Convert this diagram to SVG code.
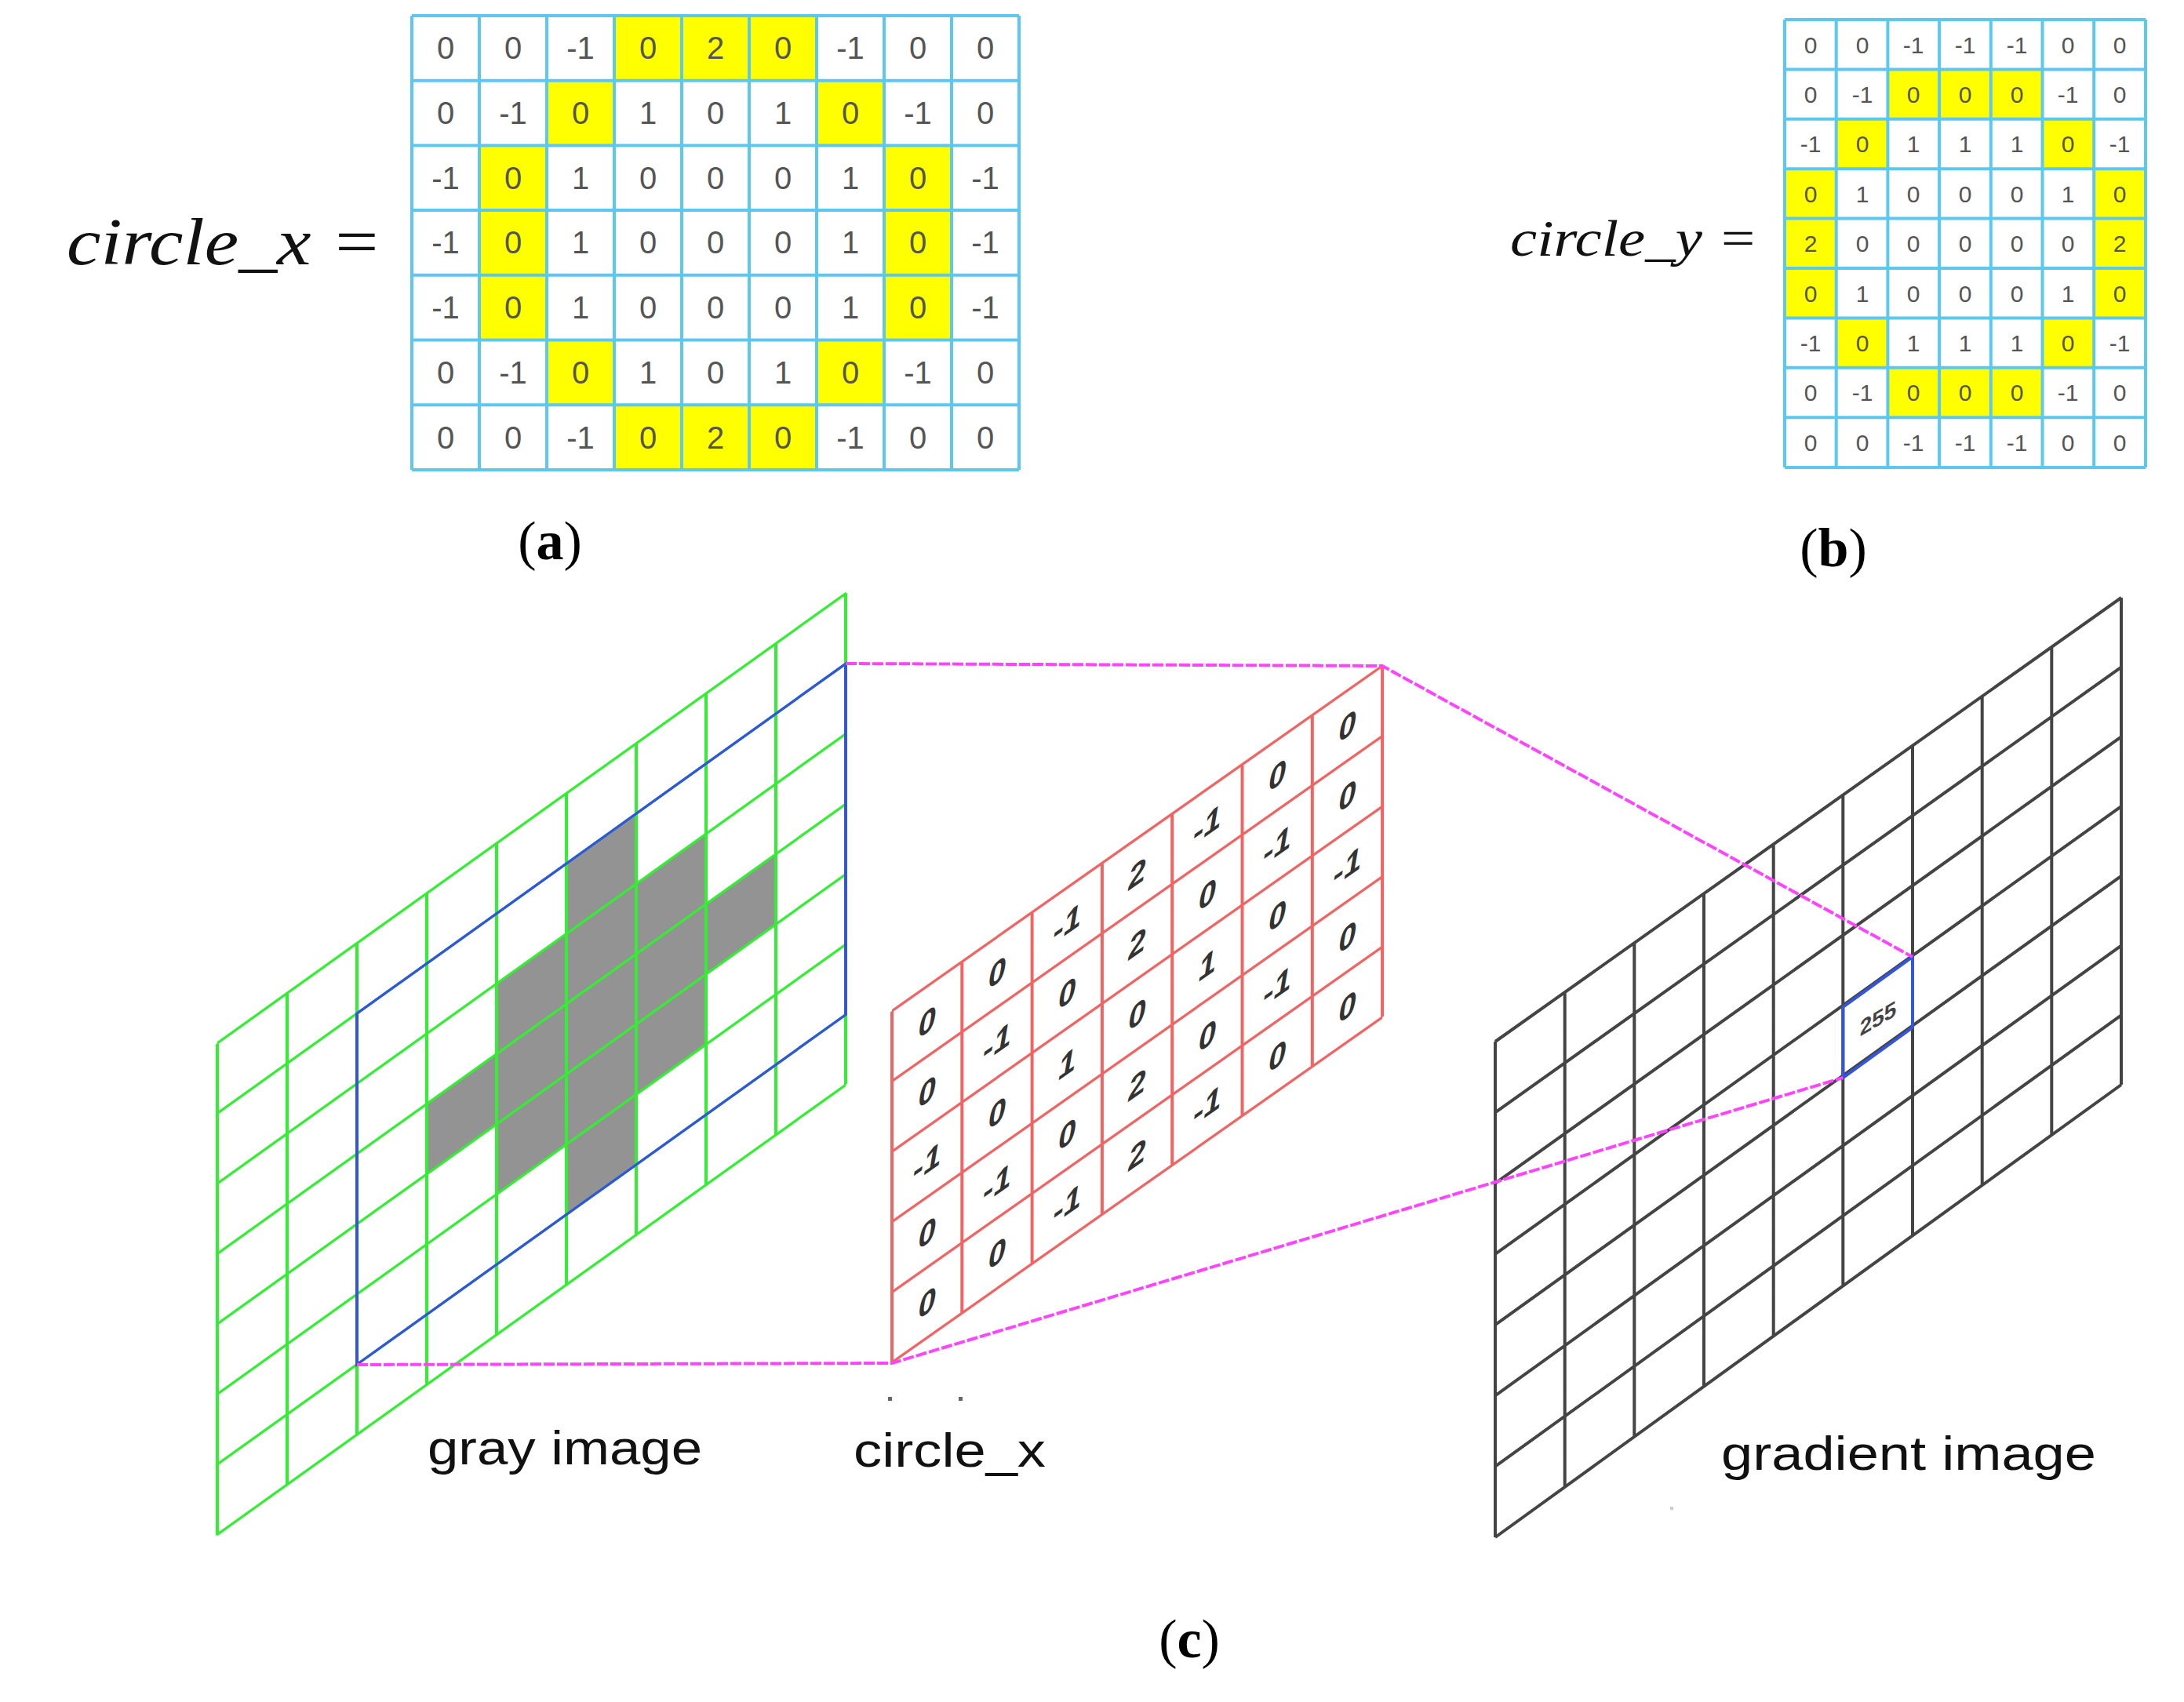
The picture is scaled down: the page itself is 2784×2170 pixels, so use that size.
<svg xmlns="http://www.w3.org/2000/svg" width="2784" height="2170" viewBox="0 0 2784 2170">
<style>
.ta{font-family:"Liberation Sans",sans-serif;font-size:40px;fill:#555;text-anchor:middle}
.tb{font-family:"Liberation Sans",sans-serif;font-size:30px;fill:#555;text-anchor:middle}
.eq{font-family:"Liberation Serif",serif;font-style:italic;fill:#111}
.cap{font-family:"Liberation Serif",serif;font-size:70px;fill:#000;text-anchor:middle}
.lbl{font-family:"Liberation Sans",sans-serif;font-size:62px;fill:#111}
.rt{font-family:"Liberation Sans",sans-serif;font-size:40px;font-style:italic;font-weight:bold;fill:#333;text-anchor:middle}
.tbl{fill:none;stroke:#5cc8f0;stroke-width:4}
.g{stroke:#33ee33;stroke-width:4;fill:none}
.r{stroke:#f06464;stroke-width:4;fill:none}
.k{stroke:#444;stroke-width:4;fill:none}
.bl{stroke:#3355dd;stroke-width:4;fill:none}
.mg{stroke:#ff44ff;stroke-width:4;fill:none;stroke-dasharray:14 3}
.y{fill:#ffff00}
.gc{fill:#939393}
</style>

<g id="panel-a">
<text class="eq" x="85" y="337" font-size="84" textLength="402" lengthAdjust="spacingAndGlyphs">circle_x =</text>
<rect x="525" y="20" width="774" height="579" fill="#fff"/>
<g class="y">
<rect x="783" y="20" width="258" height="82.7"/>
<rect x="697" y="102.7" width="86" height="82.7"/><rect x="1041" y="102.7" width="86" height="82.7"/>
<rect x="611" y="185.4" width="86" height="248.1"/><rect x="1127" y="185.4" width="86" height="248.1"/>
<rect x="697" y="433.5" width="86" height="82.7"/><rect x="1041" y="433.5" width="86" height="82.7"/>
<rect x="783" y="516.2" width="258" height="82.8"/>
</g>
<path class="tbl" d="M525 20H1299M525 102.7H1299M525 185.4H1299M525 268.1H1299M525 350.8H1299M525 433.5H1299M525 516.2H1299M525 599H1299M525 20V599M611 20V599M697 20V599M783 20V599M869 20V599M955 20V599M1041 20V599M1127 20V599M1213 20V599M1299 20V599"/>
<g class="ta">
<text x="568" y="75">0</text><text x="654" y="75">0</text><text x="740" y="75">-1</text><text x="826" y="75">0</text><text x="912" y="75">2</text><text x="998" y="75">0</text><text x="1084" y="75">-1</text><text x="1170" y="75">0</text><text x="1256" y="75">0</text>
<text x="568" y="158">0</text><text x="654" y="158">-1</text><text x="740" y="158">0</text><text x="826" y="158">1</text><text x="912" y="158">0</text><text x="998" y="158">1</text><text x="1084" y="158">0</text><text x="1170" y="158">-1</text><text x="1256" y="158">0</text>
<text x="568" y="241">-1</text><text x="654" y="241">0</text><text x="740" y="241">1</text><text x="826" y="241">0</text><text x="912" y="241">0</text><text x="998" y="241">0</text><text x="1084" y="241">1</text><text x="1170" y="241">0</text><text x="1256" y="241">-1</text>
<text x="568" y="323">-1</text><text x="654" y="323">0</text><text x="740" y="323">1</text><text x="826" y="323">0</text><text x="912" y="323">0</text><text x="998" y="323">0</text><text x="1084" y="323">1</text><text x="1170" y="323">0</text><text x="1256" y="323">-1</text>
<text x="568" y="406">-1</text><text x="654" y="406">0</text><text x="740" y="406">1</text><text x="826" y="406">0</text><text x="912" y="406">0</text><text x="998" y="406">0</text><text x="1084" y="406">1</text><text x="1170" y="406">0</text><text x="1256" y="406">-1</text>
<text x="568" y="489">0</text><text x="654" y="489">-1</text><text x="740" y="489">0</text><text x="826" y="489">1</text><text x="912" y="489">0</text><text x="998" y="489">1</text><text x="1084" y="489">0</text><text x="1170" y="489">-1</text><text x="1256" y="489">0</text>
<text x="568" y="572">0</text><text x="654" y="572">0</text><text x="740" y="572">-1</text><text x="826" y="572">0</text><text x="912" y="572">2</text><text x="998" y="572">0</text><text x="1084" y="572">-1</text><text x="1170" y="572">0</text><text x="1256" y="572">0</text>
</g>
<text class="cap" x="701" y="713">(<tspan font-weight="bold">a</tspan>)</text>
</g>

<g id="panel-b">
<text class="eq" x="1925" y="326" font-size="66" textLength="316" lengthAdjust="spacingAndGlyphs">circle_y =</text>
<rect x="2275" y="25" width="460" height="571" fill="#fff"/>
<g class="y">
<rect x="2406.4" y="88.4" width="197.1" height="63.4"/>
<rect x="2340.7" y="151.8" width="65.7" height="63.4"/><rect x="2603.5" y="151.8" width="65.7" height="63.4"/>
<rect x="2275" y="215.2" width="65.7" height="190.2"/><rect x="2669.2" y="215.2" width="65.8" height="190.2"/>
<rect x="2340.7" y="405.4" width="65.7" height="63.4"/><rect x="2603.5" y="405.4" width="65.7" height="63.4"/>
<rect x="2406.4" y="468.8" width="197.1" height="63.4"/>
</g>
<path class="tbl" d="M2275 25H2735M2275 88.4H2735M2275 151.8H2735M2275 215.2H2735M2275 278.6H2735M2275 342H2735M2275 405.4H2735M2275 468.8H2735M2275 532.2H2735M2275 596H2735M2275 25V596M2340.7 25V596M2406.4 25V596M2472.1 25V596M2537.8 25V596M2603.5 25V596M2669.2 25V596M2735 25V596"/>
<g class="tb">
<text x="2308" y="68">0</text><text x="2374" y="68">0</text><text x="2439" y="68">-1</text><text x="2505" y="68">-1</text><text x="2571" y="68">-1</text><text x="2636" y="68">0</text><text x="2702" y="68">0</text>
<text x="2308" y="131">0</text><text x="2374" y="131">-1</text><text x="2439" y="131">0</text><text x="2505" y="131">0</text><text x="2571" y="131">0</text><text x="2636" y="131">-1</text><text x="2702" y="131">0</text>
<text x="2308" y="194">-1</text><text x="2374" y="194">0</text><text x="2439" y="194">1</text><text x="2505" y="194">1</text><text x="2571" y="194">1</text><text x="2636" y="194">0</text><text x="2702" y="194">-1</text>
<text x="2308" y="258">0</text><text x="2374" y="258">1</text><text x="2439" y="258">0</text><text x="2505" y="258">0</text><text x="2571" y="258">0</text><text x="2636" y="258">1</text><text x="2702" y="258">0</text>
<text x="2308" y="321">2</text><text x="2374" y="321">0</text><text x="2439" y="321">0</text><text x="2505" y="321">0</text><text x="2571" y="321">0</text><text x="2636" y="321">0</text><text x="2702" y="321">2</text>
<text x="2308" y="385">0</text><text x="2374" y="385">1</text><text x="2439" y="385">0</text><text x="2505" y="385">0</text><text x="2571" y="385">0</text><text x="2636" y="385">1</text><text x="2702" y="385">0</text>
<text x="2308" y="448">-1</text><text x="2374" y="448">0</text><text x="2439" y="448">1</text><text x="2505" y="448">1</text><text x="2571" y="448">1</text><text x="2636" y="448">0</text><text x="2702" y="448">-1</text>
<text x="2308" y="511">0</text><text x="2374" y="511">-1</text><text x="2439" y="511">0</text><text x="2505" y="511">0</text><text x="2571" y="511">0</text><text x="2636" y="511">-1</text><text x="2702" y="511">0</text>
<text x="2308" y="575">0</text><text x="2374" y="575">0</text><text x="2439" y="575">-1</text><text x="2505" y="575">-1</text><text x="2571" y="575">-1</text><text x="2636" y="575">0</text><text x="2702" y="575">0</text>
</g>
<text class="cap" x="2337" y="722">(<tspan font-weight="bold">b</tspan>)</text>
</g>

<g id="gray-image" transform="matrix(1,-0.7157,0,1,277,1330)">
<g class="gc">
<rect x="267" y="268.5" width="89" height="89.5"/>
<rect x="356" y="179" width="89" height="268.5"/>
<rect x="445" y="89.5" width="89" height="447.5"/>
<rect x="534" y="179" width="89" height="268.5"/>
<rect x="623" y="268.5" width="89" height="89.5"/>
</g>
<path class="g" d="M0 0V626.5M89 0V626.5M178 0V626.5M267 0V626.5M356 0V626.5M445 0V626.5M534 0V626.5M623 0V626.5M712 0V626.5M801 0V626.5M0 0H801M0 89.5H801M0 179H801M0 268.5H801M0 358H801M0 447.5H801M0 537H801M0 626.5H801"/>
<rect class="bl" x="178" y="89.5" width="623" height="447.5"/>
</g>
<text id="gray-label" class="lbl" x="545" y="1867" textLength="350" lengthAdjust="spacingAndGlyphs">gray image</text>

<g id="circle-x-kernel" transform="matrix(1,-0.704,0,1,1137,1289)">
<path class="r" d="M0 0V448M89.3 0V448M178.6 0V448M267.9 0V448M357.2 0V448M446.5 0V448M535.8 0V448M625.1 0V448M0 0H625.1M0 89.6H625.1M0 179.2H625.1M0 268.8H625.1M0 358.4H625.1M0 448H625.1"/>
<g class="rt">
<text x="44.6" y="59">0</text><text x="44.6" y="148">0</text><text x="44.6" y="238">-1</text><text x="44.6" y="328">0</text><text x="44.6" y="417">0</text>
<text x="133.9" y="59">0</text><text x="133.9" y="148">-1</text><text x="133.9" y="238">0</text><text x="133.9" y="328">-1</text><text x="133.9" y="417">0</text>
<text x="223.2" y="59">-1</text><text x="223.2" y="148">0</text><text x="223.2" y="238">1</text><text x="223.2" y="328">0</text><text x="223.2" y="417">-1</text>
<text x="312.5" y="59">2</text><text x="312.5" y="148">2</text><text x="312.5" y="238">0</text><text x="312.5" y="328">2</text><text x="312.5" y="417">2</text>
<text x="401.8" y="59">-1</text><text x="401.8" y="148">0</text><text x="401.8" y="238">1</text><text x="401.8" y="328">0</text><text x="401.8" y="417">-1</text>
<text x="491.1" y="59">0</text><text x="491.1" y="148">-1</text><text x="491.1" y="238">0</text><text x="491.1" y="328">-1</text><text x="491.1" y="417">0</text>
<text x="580.4" y="59">0</text><text x="580.4" y="148">0</text><text x="580.4" y="238">-1</text><text x="580.4" y="328">0</text><text x="580.4" y="417">0</text>
</g>
</g>
<text id="kernel-label" class="lbl" x="1088" y="1870" textLength="245" lengthAdjust="spacingAndGlyphs">circle_x</text>
<g fill="#666"><rect x="1132" y="1781" width="5" height="5"/><rect x="1222" y="1781" width="5" height="5"/><rect x="2129" y="1921" width="4" height="4" fill="#ccc"/></g>

<g id="gradient-image">
<path class="k" d="M1906 1328V1960M1994.7 1265.1V1896M2083.3 1202.2V1832M2172 1139.3V1767.5M2260.7 1076.4V1703M2349.3 1013.5V1639M2438 950.6V1575M2526.7 887.7V1511M2615.3 824.8V1447M2704 762V1383M1906 1328L2704 762M1906 1418.3L2704 850.7M1906 1508.6L2704 939.4M1906 1598.9L2704 1028.1M1906 1689.1L2704 1116.9M1906 1779.4L2704 1205.6M1906 1869.7L2704 1294.3M1906 1960L2704 1383"/>
<path class="bl" d="M2349.3 1284L2438 1220V1310L2349.3 1374Z"/>
<text transform="translate(2394 1308) skewY(-30)" font-family="Liberation Sans,sans-serif" font-size="28" font-weight="bold" fill="#444" text-anchor="middle">255</text>
</g>
<text id="gradient-label" class="lbl" x="2194" y="1874" textLength="478" lengthAdjust="spacingAndGlyphs">gradient image</text>

<g id="connectors">
<path class="mg" d="M1078 846L1762 849L2438 1220"/>
<path class="mg" d="M455 1740L1137 1738L2349.3 1374"/>
</g>

<text class="cap" x="1516" y="2113">(<tspan font-weight="bold">c</tspan>)</text>
</svg>
